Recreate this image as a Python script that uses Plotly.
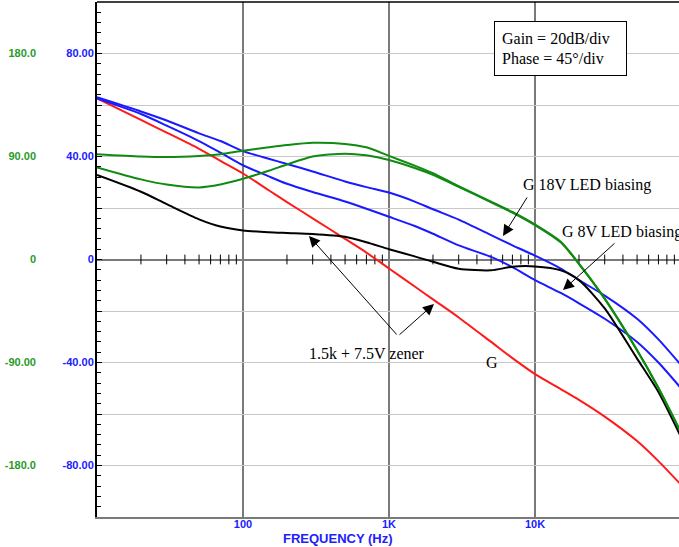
import plotly.graph_objects as go

# ---------------- data ----------------
freq = [10, 20, 30, 50, 70, 100, 150, 200, 300, 500, 700, 1000, 1500, 2000,
        3000, 5000, 7000, 10000, 15000, 20000, 30000, 50000, 70000, 100000]

# gain curves (dB)
gain_zener_red = [62.6, 54.2, 49.3, 43.0, 38.3, 33.4, 26.9, 22.3, 16.0, 8.0, 2.7, -3.5,
                  -10.5, -15.5, -22.5, -32.0, -38.3, -44.5, -50.3, -54.5, -61.0, -70.5,
                  -78.3, -87.5]
gain_18v_blue = [63.0, 57.5, 54.0, 49.0, 46.0, 42.1, 39.1, 37.1, 34.2, 30.3, 28.1, 26.0,
                 22.5, 19.5, 15.5, 9.5, 5.5, 1.5, -3.5, -8.0, -14.0, -23.0, -31.0, -41.0]
gain_8v_blue = [62.5, 56.5, 52.0, 46.0, 41.5, 36.6, 32.3, 29.4, 26.2, 22.5, 19.7, 16.6,
                13.0, 10.0, 5.5, 1.0, -3.0, -8.0, -13.0, -17.0, -23.0, -32.0, -40.0, -50.0]
gain_black = [32.8, 26.3, 21.5, 15.6, 12.8, 11.3, 10.6, 10.3, 9.9, 8.8, 6.7, 4.0,
              1.2, -0.9, -3.6, -4.2, -2.8, -2.7, -4.2, -8.0, -19.0, -38.5, -51.5, -69.0]

# phase curves (degrees)
phase_upper_green = [92, 90, 89.5, 90.5, 92, 95, 98, 100, 102, 101, 98, 90.5, 82, 75.5,
                     64, 50.5, 41.5, 30.5, 15.5, -3.5, -34, -79, -112, -151]
phase_lower_green = [80.5, 70, 65.5, 63, 65.5, 70.5, 77.5, 83, 90, 92.5, 91, 87, 80, 74,
                     63.5, 50, 41, 30, 15, -4, -34.5, -79.5, -112.5, -151.5]

# axis ticks
x_tickvals = [100, 1000, 10000]
x_ticktext = ["100", "1K", "10K"]
gain_tickvals = [-80, -60, -40, -20, 0, 20, 40, 60, 80]
gain_ticktext = ["-80.00", "", "-40.00", "", "0", "", "40.00", "", "80.00"]
phase_tickvals = [-180, -90, 0, 90, 180]
phase_ticktext = ["-180.0", "-90.00", "0", "90.00", "180.0"]
minor_freqs = [m * d for d in (10, 100, 1000, 10000) for m in range(2, 10)]

# ---------------- layout helpers ----------------
W, H = 679, 547
PLOT_L, PLOT_T, PLOT_B = 97, 2, 517


def px(x, y):
    """pixel position -> paper coordinates"""
    return x / W, 1 - (y - PLOT_T) / (PLOT_B - PLOT_T)


BLUE = "#1a1aff"
RED = "#ff1a1a"
GREEN = "#108a10"
LABEL_GREEN = "#2a9a2a"
LABEL_BLUE = "#2020ff"

fig = go.Figure()

# minor log ticks drawn along the 0 dB line
fig.add_trace(go.Scatter(x=minor_freqs, y=[0] * len(minor_freqs), mode="markers",
                         marker=dict(symbol="line-ns", size=7,
                                     line=dict(color="black", width=1)),
                         hoverinfo="skip", showlegend=False))

line_style = dict(width=2, shape="spline", smoothing=0.7)
fig.add_trace(go.Scatter(x=freq, y=gain_zener_red, mode="lines",
                         line=dict(color=RED, **line_style), showlegend=False))
fig.add_trace(go.Scatter(x=freq, y=gain_18v_blue, mode="lines",
                         line=dict(color=BLUE, **line_style), showlegend=False))
fig.add_trace(go.Scatter(x=freq, y=gain_8v_blue, mode="lines",
                         line=dict(color=BLUE, **line_style), showlegend=False))
fig.add_trace(go.Scatter(x=freq, y=phase_upper_green, mode="lines", yaxis="y2",
                         line=dict(color=GREEN, **line_style), showlegend=False))
fig.add_trace(go.Scatter(x=freq, y=phase_lower_green, mode="lines", yaxis="y2",
                         line=dict(color=GREEN, **line_style), showlegend=False))
fig.add_trace(go.Scatter(x=freq, y=gain_black, mode="lines",
                         line=dict(color="black", **line_style), showlegend=False))

tick_font_blue = dict(family="Liberation Sans, Arial", size=11, color=LABEL_BLUE, weight="bold")
tick_font_green = dict(family="Liberation Sans, Arial", size=11, color=LABEL_GREEN, weight="bold")

fig.update_layout(
    width=W, height=H,
    margin=dict(l=0, r=0, t=PLOT_T, b=H - PLOT_B),
    paper_bgcolor="white", plot_bgcolor="white",
    showlegend=False,
    xaxis=dict(type="log", range=[1, 4.986], domain=[PLOT_L / W, 1],
               tickvals=x_tickvals, ticktext=x_ticktext, tickfont=tick_font_blue,
               ticks="", ticklabelstandoff=-4,
               showline=True, linecolor="#7a7a7a", linewidth=2,
               showgrid=True, gridcolor="#7a7a7a", gridwidth=2, zeroline=False,
               automargin=False),
    yaxis=dict(range=[-100, 100], tickvals=gain_tickvals, ticktext=gain_ticktext,
               tickfont=tick_font_blue, ticks="inside", ticklen=5, tickcolor="black",
               ticklabelstandoff=-1,
               minor=dict(dtick=4, ticks="inside", ticklen=4, tickcolor="black", showgrid=False),
               showline=True, linecolor="black", linewidth=2,
               showgrid=True, gridcolor="#c8c8c8", gridwidth=1,
               zeroline=True, zerolinecolor="#7a7a7a", zerolinewidth=2,
               automargin=False),
    yaxis2=dict(range=[-225, 225], overlaying="y", anchor="free", side="left",
                position=36 / W, tickvals=phase_tickvals, ticktext=phase_ticktext,
                tickfont=tick_font_green, ticks="", showline=False, showgrid=False,
                zeroline=False, automargin=False),
)

# darker 1K grid line and top border
fig.add_shape(type="line", xref="x", yref="paper", x0=3, x1=3, y0=0, y1=1,
              line=dict(color="black", width=1.2))
fig.add_shape(type="line", xref="paper", yref="paper", x0=PLOT_L / W, x1=1, y0=1, y1=1,
              line=dict(color="black", width=1.5))

serif = dict(family="Liberation Serif, Times New Roman", size=16, color="black")

# x axis title
tx, ty = px(338, 538)
fig.add_annotation(xref="paper", yref="paper", x=tx, y=ty, text="FREQUENCY (Hz)",
                   showarrow=False, xanchor="center", yanchor="middle",
                   font=dict(family="Liberation Sans, Arial", size=13, color=LABEL_BLUE,
                             weight="bold"))

# info box
bx, by = px(560.5, 48.5)
fig.add_annotation(xref="paper", yref="paper", x=bx, y=by,
                   text="Gain = 20dB/div<br>Phase = 45°/div", showarrow=False,
                   xanchor="center", yanchor="middle",
                   align="left", width=117, height=39, borderpad=7,
                   bordercolor="black", borderwidth=1, bgcolor="white", font=serif)

# text labels
labels = [
    ("G 18V LED biasing", 587, 185, "center"),
    ("G 8V LED biasing", 560, 232, "left"),
    ("1.5k + 7.5V zener", 367, 353, "center"),
    ("G", 491.5, 362.5, "center"),
]
for txt, lx, ly, anc in labels:
    ax_, ay_ = px(lx, ly)
    fig.add_annotation(xref="paper", yref="paper", x=ax_, y=ay_, text=txt,
                       showarrow=False, xanchor=anc, yanchor="middle", font=serif)

# arrows: (tail_x, tail_y, head_x, head_y) in pixels
arrows = [
    (528, 196, 503, 236),
    (616, 242, 563, 290),
    (398, 336, 309, 236),
    (398, 336, 434, 304),
]
for tx0, ty0, hx, hy in arrows:
    hxp, hyp = px(hx, hy)
    fig.add_annotation(xref="paper", yref="paper", x=hxp, y=hyp, text="",
                       showarrow=True, ax=tx0 - hx, ay=ty0 - hy,
                       arrowhead=2, arrowsize=2.2, arrowwidth=1, arrowcolor="black")

fig.write_html("out.html", config={"displayModeBar": False},
               post_script="document.body.style.margin='0';")
